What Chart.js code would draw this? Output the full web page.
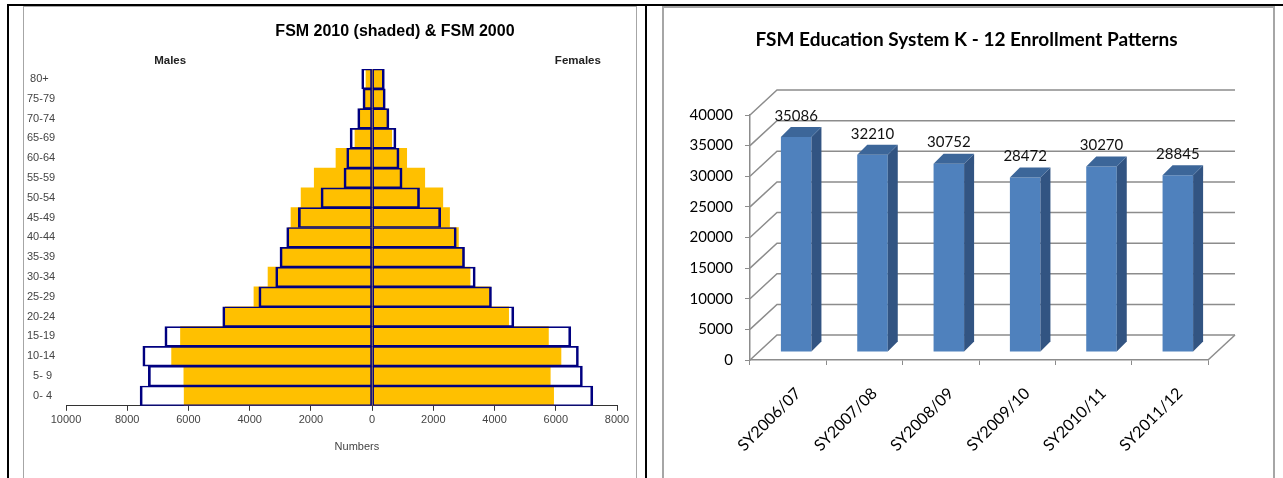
<!DOCTYPE html>
<html>
<head>
<meta charset="utf-8">
<script src="https://cdn.jsdelivr.net/npm/chart.js@4.4.0/dist/chart.umd.min.js"></script>
<style>
body { margin: 0; background: #fff; }
#page { position: relative; width: 1283px; height: 478px; overflow: hidden; }
.rule { position: absolute; background: #000; }
.panel { position: absolute; border: 2px solid #a6a6a6; border-bottom: none; box-sizing: border-box; }
canvas { position: absolute; }
</style>
</head>
<body>
<div id="page">
  <div class="rule" style="left:7px; top:4px; width:1276px; height:2px"></div>
  <div class="rule" style="left:7px; top:4px; width:2px; height:474px"></div>
  <div class="rule" style="left:645px; top:4px; width:2px; height:474px"></div>
  <div class="panel" style="left:23px; top:6px; width:614px; height:472px; border-width:1.5px"></div>
  <div class="panel" style="left:662px; top:6px; width:613px; height:472px"></div>
  <canvas id="pyramid" width="610" height="468" style="left:25px; top:8px"></canvas>
  <canvas id="enrol" width="609" height="468" style="left:664px; top:8px"></canvas>
</div>
<script>
// ---- left: population pyramid (0-4 first, drawn bottom up) ----
const ageGroups = ['  0- 4', '  5- 9', '10-14', '15-19', '20-24', '25-29', '30-34', '35-39', '40-44',
  '45-49', '50-54', '55-59', '60-64', '65-69', '70-74', '75-79', ' 80+'];
const males2010 = [6140, 6150, 6550, 6260, 4800, 3860, 3400, 2950, 2730, 2650, 2320, 1890, 1180, 560, 390, 280, 200];
const males2000 = [7580, 7310, 7490, 6770, 4880, 3700, 3150, 3010, 2790, 2410, 1670, 920, 830, 720, 470, 300, 340];
const females2010 = [5930, 5820, 6170, 5760, 4460, 3860, 3200, 2990, 2820, 2530, 2310, 1720, 1130, 640, 480, 370, 370];
const females2000 = [7210, 6870, 6740, 6490, 4630, 3900, 3370, 3020, 2750, 2240, 1550, 980, 880, 780, 550, 430, 400];

// ---- right: K-12 enrolment ----
const schoolYears = ['SY2006/07', 'SY2007/08', 'SY2008/09', 'SY2009/10', 'SY2010/11', 'SY2011/12'];
const enrolment = [35086, 32210, 30752, 28472, 30270, 28845];
const enrolTitle = 'FSM Education System K - 12 Enrollment Patterns';

const arial = 'Liberation Sans, Arial, sans-serif';
const calibri = 'Lato, sans-serif';

// text around the pyramid (title is not centred on the canvas, so draw it here)
const pyramidText = {
  id: 'pyramidText',
  afterDraw(chart) {
    const ctx = chart.ctx;
    const a = chart.chartArea;
    const w = a.right - a.left;
    ctx.save();
    ctx.textAlign = 'center';
    ctx.textBaseline = 'middle';
    ctx.fillStyle = '#000';
    ctx.font = 'bold 16px ' + arial;
    ctx.fillText('FSM 2010 (shaded) & FSM 2000', a.left + w * 0.597, 24);
    ctx.fillStyle = '#222';
    ctx.font = 'bold 11.5px ' + arial;
    ctx.fillText('Males', a.left + w * 0.189, a.top - 8);
    ctx.fillText('Females', a.left + w * 0.929, a.top - 8);
    ctx.fillStyle = '#444';
    ctx.font = '11px ' + arial;
    ctx.fillText('Numbers', a.left + w * 0.528, a.bottom + 41);
    ctx.restore();
  }
};

new Chart(document.getElementById('pyramid'), {
  type: 'bar',
  data: {
    labels: ageGroups,
    datasets: [
      { label: 'Males 2000', data: males2000.map(v => -v), backgroundColor: 'rgba(0,0,0,0)',
        borderColor: '#000080', borderWidth: { left: 2, right: 1, top: 1, bottom: 1 }, borderSkipped: false },
      { label: 'Females 2000', data: females2000, backgroundColor: 'rgba(0,0,0,0)',
        borderColor: '#000080', borderWidth: { left: 1, right: 2, top: 1, bottom: 1 }, borderSkipped: false },
      { label: 'Males 2010', data: males2010.map(v => -v), backgroundColor: '#FFC000', borderWidth: 0 },
      { label: 'Females 2010', data: females2010, backgroundColor: '#FFC000', borderWidth: 0 }
    ]
  },
  options: {
    indexAxis: 'y',
    responsive: false,
    animation: false,
    layout: { padding: { left: 2, right: 18, top: 61, bottom: 46 } },
    datasets: { bar: { grouped: false, barPercentage: 1, categoryPercentage: 1 } },
    plugins: { legend: { display: false }, tooltip: { enabled: false } },
    scales: {
      x: {
        min: -10000, max: 8000,
        ticks: { stepSize: 2000, callback: v => Math.abs(v), color: '#444', font: { family: arial, size: 11 }, padding: 3 },
        grid: { drawOnChartArea: false, tickLength: 5, color: '#333' },
        border: { color: '#333', width: 1 }
      },
      y: {
        reverse: true,
        grid: { display: false },
        border: { display: false },
        ticks: { crossAlign: 'far', color: '#444', font: { family: arial, size: 11 } },
        afterFit(s) { s.width = 39; }
      }
    }
  },
  plugins: [pyramidText]
});

// fake 3-D look: back wall, shifted bars with side + top faces, value labels
const WALL = [27, -25];
const SHIFT = [8, -8];
const SIDE = 10;
const box3d = {
  id: 'box3d',
  beforeDatasetsDraw(chart) {
    const { ctx, chartArea: a } = chart;
    const y = chart.scales.y;
    ctx.save();
    ctx.strokeStyle = '#8c8c8c';
    ctx.lineWidth = 1.5;
    y.ticks.forEach(t => {
      const py = y.getPixelForValue(t.value);
      ctx.beginPath();
      ctx.moveTo(a.left, py);
      ctx.lineTo(a.left + WALL[0], py + WALL[1]);
      ctx.lineTo(a.right + WALL[0], py + WALL[1]);
      ctx.stroke();
    });
    ctx.beginPath();
    ctx.moveTo(a.right, a.bottom);
    ctx.lineTo(a.right + WALL[0], a.bottom + WALL[1]);
    ctx.stroke();
    ctx.restore();
  },
  beforeDatasetDraw(chart) {
    chart.ctx.save();
    chart.ctx.translate(SHIFT[0], SHIFT[1]);
  },
  afterDatasetDraw(chart, args) {
    const ctx = chart.ctx;
    const values = chart.data.datasets[args.index].data;
    args.meta.data.forEach((bar, i) => {
      const { x, y, base, width } = bar.getProps(['x', 'y', 'base', 'width'], true);
      const l = x - width / 2, r = x + width / 2;
      ctx.fillStyle = '#325482';
      ctx.beginPath();
      ctx.moveTo(r, y); ctx.lineTo(r + SIDE, y - SIDE); ctx.lineTo(r + SIDE, base - SIDE); ctx.lineTo(r, base);
      ctx.closePath(); ctx.fill();
      ctx.fillStyle = '#3C6699';
      ctx.beginPath();
      ctx.moveTo(l, y); ctx.lineTo(l + SIDE, y - SIDE); ctx.lineTo(r + SIDE, y - SIDE); ctx.lineTo(r, y);
      ctx.closePath(); ctx.fill();
      ctx.fillStyle = '#111';
      ctx.font = '15px ' + calibri;
      ctx.textAlign = 'center';
      ctx.textBaseline = 'middle';
      ctx.fillText(values[i], x, y - 21);
    });
    ctx.restore();
  },
  afterDraw(chart) {
    // title drawn by hand so it sits centred on the whole panel
    const ctx = chart.ctx;
    ctx.save();
    ctx.fillStyle = '#000';
    ctx.font = 'bold 19px ' + calibri;
    ctx.textAlign = 'center';
    ctx.textBaseline = 'middle';
    ctx.fillText(enrolTitle, chart.width / 2 - 2, 32);
    ctx.restore();
  }
};

new Chart(document.getElementById('enrol'), {
  type: 'bar',
  data: {
    labels: schoolYears,
    datasets: [{ label: 'Enrollment', data: enrolment, backgroundColor: '#4F81BD', borderWidth: 0,
      barPercentage: 0.4, categoryPercentage: 1 }]
  },
  options: {
    responsive: false,
    animation: false,
    layout: { padding: { left: 0, right: 65, top: 107, bottom: 0 } },
    plugins: { legend: { display: false }, tooltip: { enabled: false } },
    scales: {
      x: {
        grid: { drawOnChartArea: false, tickLength: 5, color: '#8c8c8c' },
        border: { color: '#8c8c8c', width: 1.5 },
        ticks: { minRotation: 45, maxRotation: 45, labelOffset: 10, padding: 19, color: '#000', font: { family: calibri, size: 16 } },
        afterFit(s) { s.height = 116; }
      },
      y: {
        min: 0, max: 40000,
        ticks: { stepSize: 5000, callback: v => v, padding: 12, color: '#000', font: { family: calibri, size: 15 } },
        grid: { drawOnChartArea: false, tickLength: 5, color: '#8c8c8c' },
        border: { color: '#8c8c8c', width: 1.5 },
        afterFit(s) { s.width = 86; }
      }
    }
  },
  plugins: [box3d]
});
</script>
</body>
</html>
